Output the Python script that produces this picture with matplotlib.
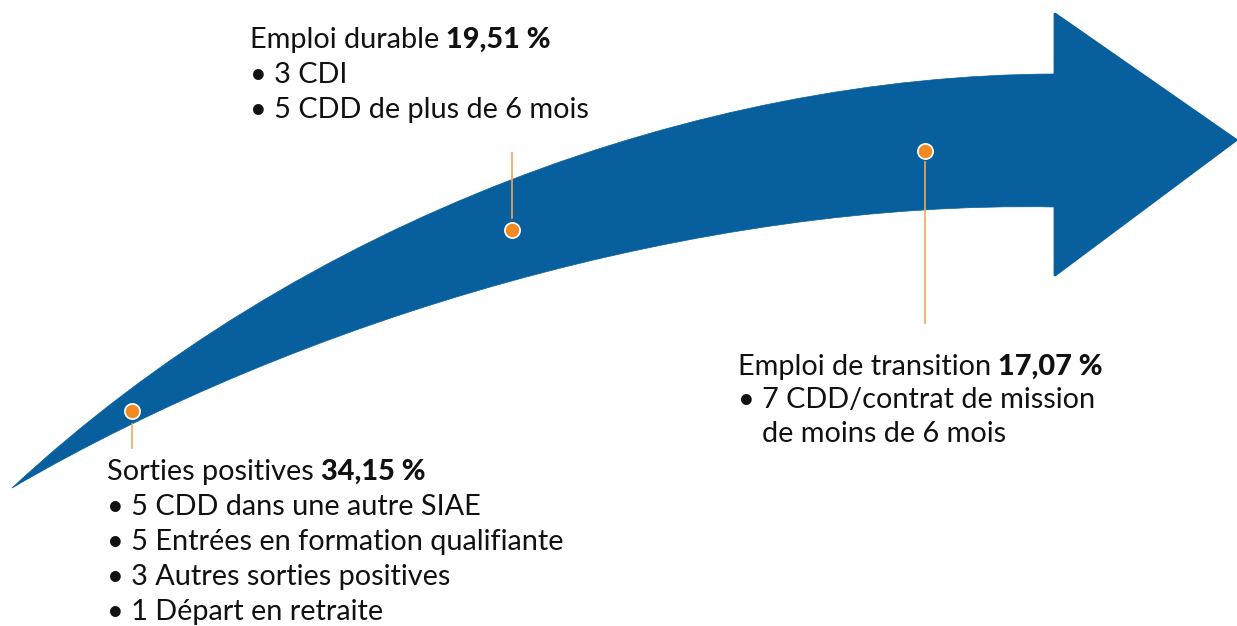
import matplotlib.pyplot as plt
from matplotlib.path import Path
from matplotlib.patches import PathPatch, Polygon

# categories and values
titles = ["Sorties positives", "Emploi durable", "Emploi de transition"]
percents = ["34,15 %", "19,51 %", "17,07 %"]
items_sorties = ["5 CDD dans une autre SIAE", "5 Entrées en formation qualifiante",
                 "3 Autres sorties positives", "1 Départ en retraite"]
items_durable = ["3 CDI", "5 CDD de plus de 6 mois"]
items_transition = ["7 CDD/contrat de mission", "de moins de 6 mois"]

BLUE = "#07609d"
ORANGE = "#f28a24"
LINE = "#f2a55a"
FONT = "Lato"
FS = 20.8

fig = plt.figure(figsize=(12.37, 6.26), dpi=100)
ax = fig.add_axes([0, 0, 1, 1])
ax.set_xlim(0, 1237)
ax.set_ylim(626, 0)
ax.axis("off")

# curved shaft: top edge out, bottom edge back
verts = [(12, 488), (300, 220), (700, 75), (1055, 74),
         (1055, 207),
         (700, 200), (300, 320), (12, 488),
         (12, 488)]
codes = [Path.MOVETO, Path.CURVE4, Path.CURVE4, Path.CURVE4,
         Path.LINETO,
         Path.CURVE4, Path.CURVE4, Path.CURVE4,
         Path.CLOSEPOLY]
ax.add_patch(PathPatch(Path(verts, codes), fc=BLUE, ec=BLUE, lw=0.5))
# head
ax.add_patch(Polygon([(1055, 60), (1055, 14), (1236, 140), (1055, 275), (1055, 220)],
                     closed=True, fc=BLUE, ec=BLUE, lw=2, joinstyle="round"))

# markers with leader lines
ax.plot([132, 132], [424, 448], color=LINE, lw=1.2)
ax.plot([512, 512], [153, 218], color=LINE, lw=1.2)
ax.plot([925, 925], [162, 323], color=LINE, lw=1.2)
ax.scatter([132, 512, 925], [411, 230, 151], s=120, color=ORANGE,
           edgecolor="white", linewidth=1.2, zorder=5)


def block(x, y, title, pct, items, bullets, step=35):
    t = ax.text(x, y, title, fontsize=FS, family=FONT, va="baseline", color="#111111")
    ax.annotate(pct, xy=(1, 0), xycoords=t, xytext=(5, 0), textcoords="offset points",
                fontsize=FS, family=FONT, fontweight="black", va="bottom", color="#111111")
    for i, it in enumerate(items):
        label = "• " + it if bullets[i] else it
        xx = x if bullets[i] else x + 24
        ax.text(xx, y + step * (i + 1), label, fontsize=FS, family=FONT,
                va="baseline", color="#111111")


block(107, 480, titles[0], percents[0], items_sorties, [True] * 4)
block(250, 48, titles[1], percents[1], items_durable, [True] * 2)
block(738, 375, titles[2], percents[2], items_transition, [True, False], step=33.5)

fig.savefig("out.png", dpi=100)
